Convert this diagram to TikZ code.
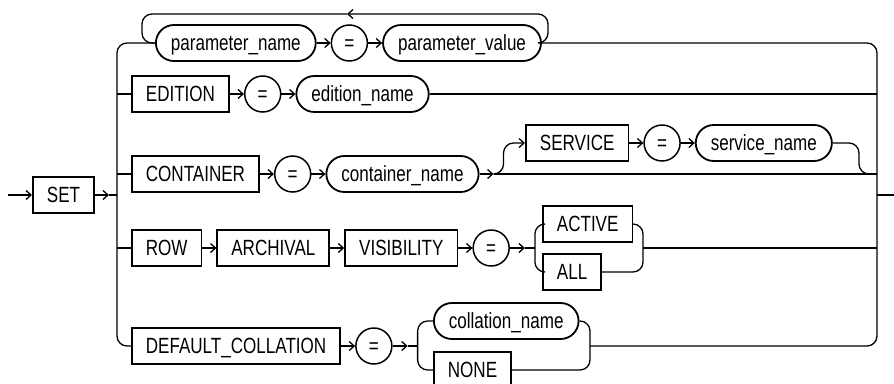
\documentclass[tikz,border=0pt]{standalone}
\usepackage{fontspec}
\setmainfont{Liberation Sans}[FakeStretch=0.775]
\usetikzlibrary{positioning,arrows.meta}

\begin{document}
\begin{tikzpicture}[x=1pt,y=-1pt,font=\fontsize{22}{26}\selectfont,>={Straight Barb[length=5pt,width=9pt]},
  line width=1.3pt,node distance=14pt,
  kw/.style={draw,line width=1.8pt,minimum height=36pt,inner xsep=14pt,text height=16pt,text depth=1pt},
  nt/.style={kw,rounded corners=18pt,inner xsep=15pt},
  eq/.style={draw,circle,line width=1.5pt,minimum size=36pt,inner sep=0pt,text height=16pt,text depth=1pt},
  rc/.style={rounded corners=10pt}]
\useasboundingbox (0,0) rectangle (894,383);
% entry and exit
\coordinate (in) at (8,195);
\coordinate (lb) at (117,195);
\coordinate (rb) at (877,195);
\coordinate (out) at (894,195);
\node[kw,anchor=west] (set) at (32,195) {SET};
\draw[->] (in) -- (set);
\draw[->] (set.east) -- ++(14,0) coordinate (sa);
\draw (sa) -- (lb);
\draw (rb) -- (out);
% rows
\node[nt,anchor=west] (pn) at (155,43) {parameter\_name};
\node[eq,right=of pn] (eq1) {=};
\node[nt,right=of eq1] (pv) {parameter\_value};
\node[kw,anchor=west] (ed) at (131,94) {EDITION};
\node[eq,right=of ed] (eq2) {=};
\node[nt,right=of eq2] (en) {edition\_name};
\node[kw,anchor=west] (ct) at (131,174) {CONTAINER};
\node[eq,right=of ct] (eq3) {=};
\node[nt,right=of eq3] (cn) {container\_name};
\node[kw,anchor=west] (sv) at (525,143) {SERVICE};
\node[eq,right=of sv] (eq6) {=};
\node[nt,right=of eq6] (sn) {service\_name};
\node[kw,anchor=west] (rw) at (131,248) {ROW};
\node[kw,right=of rw] (ar) {ARCHIVAL};
\node[kw,right=of ar] (vi) {VISIBILITY};
\node[eq,right=of vi] (eq4) {=};
\node[kw,anchor=west] (ac) at (542,224) {ACTIVE};
\node[kw,anchor=west] (al) at (542,272) {ALL};
\node[kw,anchor=west] (dc) at (131,346) {DEFAULT\_COLLATION};
\node[eq,right=of dc] (eq5) {=};
\node[nt,anchor=west] (cl) at (433,321) {collation\_name};
\node[kw,anchor=west] (nn) at (433,370) {NONE};
\foreach \a/\b in {pn/eq1,eq1/pv,ed/eq2,eq2/en,ct/eq3,eq3/cn,sv/eq6,eq6/sn,rw/ar,ar/vi,vi/eq4,dc/eq5}
  \draw[->] (\a) -- (\b);
% repeat loop
\coordinate (lr) at (548,14);
\coordinate (lm) at (347,14);
\coordinate (ll) at (142,14);
\draw[->,rc] (pv.east) -| (lr) -- (lm);
\draw[rc] (lm) -- (ll) |- (pn.west);
% left and right bus
\draw[rc] (pn.west) -| (lb);
\draw[rc] (lb) |- (dc.west);
\draw (ed.west -| lb) -- (ed.west);
\draw (ct.west -| lb) -- (ct.west);
\draw (rw.west -| lb) -- (rw.west);
\draw[rc] (pv.east) -| (rb);
\draw (en.east) -- (en.east -| rb);
% optional service
\draw[->] (cn.east) -- ++(14,0) coordinate (ca);
\draw (ca) -- (ca -| rb);
\draw[->,rc] (ca) -- ++(10,0) |- (sv.west);
\coordinate (sm) at (859,174);
\draw[rc] (sn.east) -| (sm) -- (sm -| rb);
% active or all
\draw[->] (eq4.east) -- ++(15,0) coordinate (va);
\draw (va) -- ++(10,0) coordinate (vs);
\draw[rc] (vs) |- (ac.west);
\draw[rc] (vs) |- (al.west);
\coordinate (vm) at (643,248);
\draw[rc] (ac.east) -| (vm);
\draw[rc] (al.east) -| (vm);
\draw (vm) -- (vm -| rb);
% collation name or none
\draw[->] (eq5.east) -- ++(15,0) coordinate (da);
\draw (da) -- ++(10,0) coordinate (ds);
\draw[rc] (ds) |- (cl.west);
\draw[rc] (ds) |- (nn.west);
\coordinate (dm) at (590,346);
\draw[rc] (cl.east) -| (dm);
\draw[rc] (nn.east) -| (dm);
\draw[rc] (dm) -| (rb);
\end{tikzpicture}
\end{document}
